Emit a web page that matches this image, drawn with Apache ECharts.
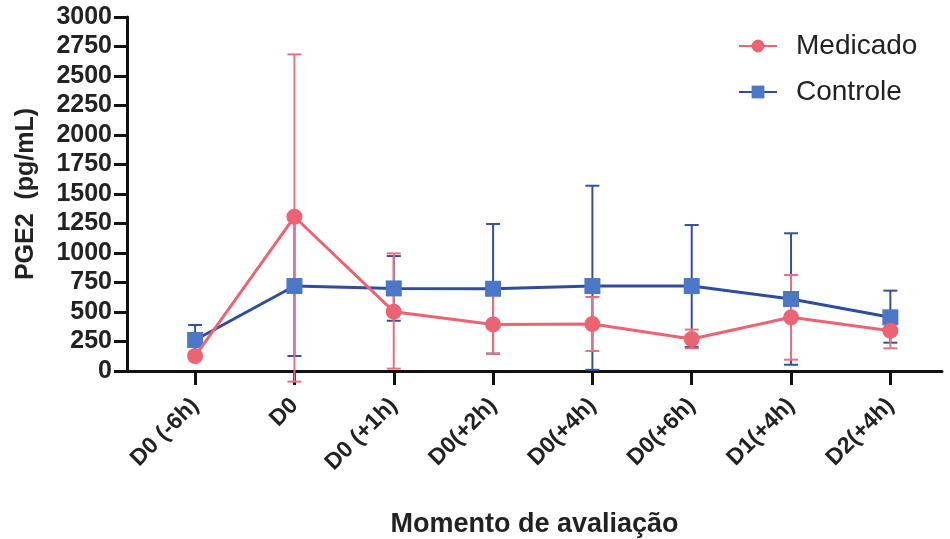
<!DOCTYPE html>
<html>
<head>
<meta charset="utf-8">
<script src="https://cdn.jsdelivr.net/npm/echarts@6/dist/echarts.min.js"></script>
<style>html,body{margin:0;padding:0;background:#fff;}#c{width:950px;height:539px;}</style>
</head>
<body>
<div id="c"></div>
<script>
var categories = ['D0 (-6h)', 'D0', 'D0 (+1h)', 'D0(+2h)', 'D0(+4h)', 'D0(+6h)', 'D1(+4h)', 'D2(+4h)'];
var medicado = [127, 1307, 503, 395, 398, 271, 455, 342];
var medLow   = [100, -90, 20, 144, 169, 192, 96, 192];
var medHigh  = [155, 2683, 997, 646, 627, 351, 814, 492];
var controle = [263, 720, 700, 697, 720, 720, 610, 455];
var ctlLow   = [136, 127, 426, 148, 10, 203, 53, 240];
var ctlHigh  = [390, 1313, 974, 1246, 1570, 1237, 1167, 681];
var yTicks = [0, 250, 500, 750, 1000, 1250, 1500, 1750, 2000, 2250, 2500, 2750, 3000];

var RED = '#ec6374', RED_BAR = '#e8707e';
var BLUE_LINE = '#2f4c9e', BLUE_MARK = '#4a78c6', BLUE_BAR = '#33509e';

function pts(vals) { return vals.map(function (v, i) { return [i, v]; }); }
function errData(lo, hi) { return lo.map(function (v, i) { return [i, v, hi[i]]; }); }

function errRender(color) {
  return function (params, api) {
    var x = api.value(0);
    var lo = api.coord([x, api.value(1)]);
    var hi = api.coord([x, api.value(2)]);
    var hw = 7;
    var st = { stroke: color, lineWidth: 2 };
    return {
      type: 'group',
      children: [
        { type: 'line', shape: { x1: lo[0], y1: lo[1], x2: hi[0], y2: hi[1] }, style: st },
        { type: 'line', shape: { x1: lo[0] - hw, y1: lo[1], x2: lo[0] + hw, y2: lo[1] }, style: st },
        { type: 'line', shape: { x1: hi[0] - hw, y1: hi[1], x2: hi[0] + hw, y2: hi[1] }, style: st }
      ]
    };
  };
}

var idx = categories.map(function (c, i) { return i; });

var chart = echarts.init(document.getElementById('c'));
chart.setOption({
  animation: false,
  backgroundColor: '#fff',
  textStyle: { fontFamily: 'Liberation Sans, Arial, sans-serif' },
  grid: { left: 127, right: 8, top: 17, bottom: 168, outerBoundsMode: 'none', containLabel: false },
  legend: {
    orient: 'vertical', left: 733, top: 27, itemGap: 18,
    itemWidth: 38, itemHeight: 16,
    textStyle: { fontSize: 28, color: '#222', padding: [0, 0, 0, 14] },
    data: ['Medicado', 'Controle']
  },
  xAxis: {
    type: 'value', min: -0.686, max: 7.52,
    splitLine: { show: false },
    axisLine: { onZero: false, lineStyle: { color: '#111', width: 3 } },
    axisTick: { show: true, length: 14, lineStyle: { color: '#111', width: 3 }, customValues: idx },
    axisLabel: {
      customValues: idx,
      formatter: function (v) { return categories[Math.round(v)]; },
      rotate: 45, fontSize: 23, fontWeight: 'bold', color: '#222', margin: 31
    },
    name: 'Momento de avaliação', nameLocation: 'middle', nameGap: 140,
    nameTextStyle: { fontSize: 27, fontWeight: 'bold', color: '#222' }
  },
  yAxis: {
    type: 'value', min: 0, max: 3000, interval: 250,
    splitLine: { show: false },
    axisLine: { show: true, onZero: false, lineStyle: { color: '#111', width: 3 } },
    axisTick: { show: true, length: 13, lineStyle: { color: '#111', width: 3 } },
    axisLabel: { fontSize: 25, fontWeight: 'bold', color: '#222', margin: 15,
      formatter: function (v) { return yTicks.indexOf(v) >= 0 ? String(v) : ''; } },
    name: 'PGE2  (pg/mL)', nameLocation: 'middle', nameGap: 88, nameRotate: 90,
    nameTextStyle: { fontSize: 25, fontWeight: 'bold', color: '#222' }
  },
  series: [
    { name: 'ctlErr', type: 'custom', renderItem: errRender(BLUE_BAR), data: errData(ctlLow, ctlHigh), z: 2, encode: { x: 0, y: [1, 2] } },
    { name: 'medErr', type: 'custom', renderItem: errRender(RED_BAR), data: errData(medLow, medHigh), z: 3, encode: { x: 0, y: [1, 2] } },
    { name: 'Controle', type: 'line', data: pts(controle), symbol: 'rect', symbolSize: 16,
      itemStyle: { color: BLUE_MARK }, lineStyle: { color: BLUE_LINE, width: 3 }, z: 4 },
    { name: 'Medicado', type: 'line', data: pts(medicado), symbol: 'circle', symbolSize: 16,
      itemStyle: { color: RED }, lineStyle: { color: RED, width: 3 }, z: 5 }
  ]
});
</script>
</body>
</html>
